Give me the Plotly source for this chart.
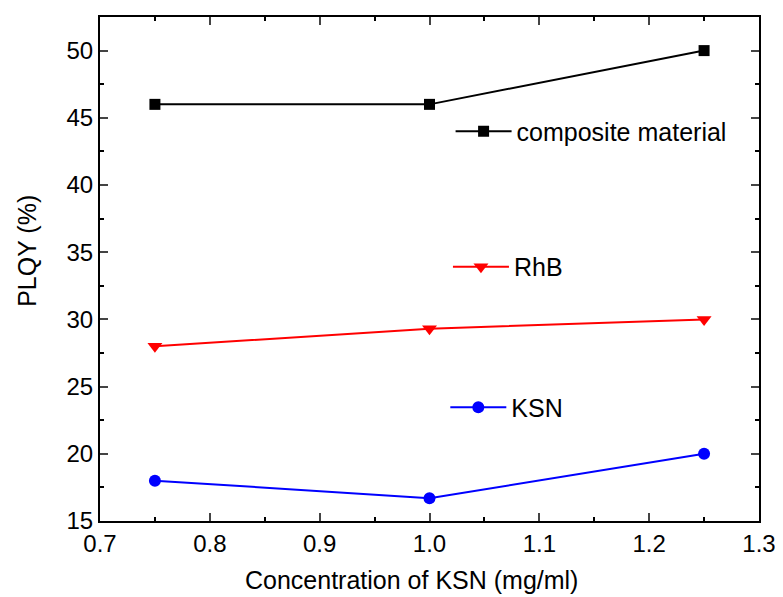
import plotly.graph_objects as go

conc = [0.75, 1.0, 1.25]
composite = [46, 46, 50]
rhb = [28, 29.3, 30]
ksn = [18, 16.7, 20]

font = "Liberation Sans, Arial, sans-serif"
fig = go.Figure()
fig.add_trace(go.Scatter(x=conc, y=composite, mode="lines+markers", name="composite material",
                         line=dict(color="black", width=2), marker=dict(symbol="square", size=11, color="black"),
                         legend="legend", showlegend=True))
fig.add_trace(go.Scatter(x=conc, y=rhb, mode="lines+markers", name="RhB",
                         line=dict(color="#ff0000", width=2), marker=dict(symbol="triangle-down", size=13, color="#ff0000"),
                         legend="legend2", showlegend=True))
fig.add_trace(go.Scatter(x=conc, y=ksn, mode="lines+markers", name="KSN",
                         line=dict(color="#0000ff", width=2), marker=dict(symbol="circle", size=12, color="#0000ff"),
                         legend="legend3", showlegend=True))

leg = dict(font=dict(family=font, size=25, color="black"), bgcolor="rgba(0,0,0,0)",
           xanchor="left", yanchor="middle", visible=True, itemwidth=56)
fig.update_layout(
    width=775, height=589,
    margin=dict(l=92, r=21, t=7, b=76),
    showlegend=True,
    plot_bgcolor="white", paper_bgcolor="white",
    font=dict(family=font, size=24, color="black"),
    legend=dict(**leg, x=0.532, y=0.773),
    legend2=dict(**leg, x=0.528, y=0.504),
    legend3=dict(**leg, x=0.524, y=0.225),
    xaxis=dict(range=[0.7, 1.3], dtick=0.1, tickformat=".1f", ticks="inside", ticklen=8, tickwidth=2,
               showline=True, linewidth=2, linecolor="black", mirror="ticks", showgrid=False, zeroline=False,
               minor=dict(ticks="inside", ticklen=4, tickwidth=2, dtick=0.05, tickcolor="black", showgrid=False),
               tickfont=dict(size=24)),
    yaxis=dict(range=[15, 52.5], dtick=5, ticks="inside", ticklen=8, tickwidth=2,
               showline=True, linewidth=2, linecolor="black", mirror="ticks", showgrid=False, zeroline=False,
               minor=dict(ticks="inside", ticklen=4, tickwidth=2, dtick=2.5, tickcolor="black", showgrid=False),
               tickfont=dict(size=24)),
    annotations=[
        dict(text="Concentration of KSN (mg/ml)", xref="paper", yref="paper", x=0.473, y=-0.117,
             xanchor="center", yanchor="middle", showarrow=False, font=dict(size=25)),
        dict(text="PLQY (%)", xref="paper", yref="paper", x=-0.11, y=0.535, textangle=-90,
             xanchor="center", yanchor="middle", showarrow=False, font=dict(size=25)),
    ],
)
fig.write_html("out.html")
